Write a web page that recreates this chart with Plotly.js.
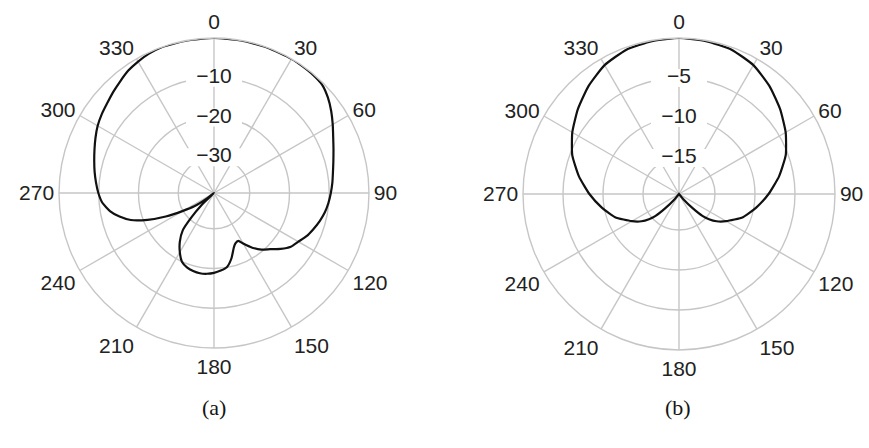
<!DOCTYPE html>
<html>
<head>
<meta charset="utf-8">
<script src="https://cdn.plot.ly/plotly-3.0.1.min.js"></script>
<style>
  html, body { margin: 0; padding: 0; background: #fff; }
  #chart { width: 869px; height: 448px; }
</style>
</head>
<body>
<div id="chart"></div>
<script>
// Pattern (a): angle in degrees (clockwise from top) and level in dB
const thetaA = [0, 10, 20, 30, 35, 40, 45, 50, 55, 60, 65, 70, 75, 80, 85, 90, 95, 100, 105,
                110, 115, 120, 125, 130, 135, 140, 145, 150, 153, 157, 160, 165, 170, 175, 180,
                185, 190, 195, 200, 205, 210, 215, 220, 223, 226, 229, 232, 236, 240, 244, 248,
                252, 256, 260, 265, 270, 275, 280, 285, 290, 295, 300, 305, 310, 315, 320, 325,
                330, 335, 340, 350, 360];
const levelA = [0, 0, 0, 0, -0.1, -0.2, -0.5, -1.6, -3.0, -4.5, -5.9, -7.0, -7.9, -8.6, -9.1,
                -9.6, -10.1, -10.7, -11.5, -12.4, -13.3, -14.5, -15.4, -17.1, -19.0, -20.4,
                -22.2, -24.3, -25.5, -25.2, -24.4, -22.0, -20.1, -19.4, -18.9, -18.6, -18.5,
                -18.7, -19.1, -19.9, -21.8, -24.0, -26.8, -30.8, -34.6, -39, -37, -33, -30,
                -25.5, -21, -17, -14.5, -12.5, -10.8, -9.9, -9.2, -8.5, -7.8, -7.0, -6.1, -5.2,
                -4.5, -3.9, -3.1, -2.3, -1.4, -0.8, -0.3, 0, 0, 0];

// Pattern (b): symmetric cardioid-like response in dB
const thetaB = [0, 10, 20, 30, 40, 50, 60, 70, 80, 90, 100, 110, 120, 126, 130, 133, 136, 140, 145,
                180, 215, 220, 224, 227, 230, 234, 240, 250, 260, 270, 280, 290, 300, 310, 320,
                330, 340, 350, 360];
const levelB = [0, -0.1, -0.3, -0.9, -1.9, -3.0, -4.1, -5.3, -6.8, -8.3, -9.7, -11.0, -12.7,
                -13.7, -14.6, -15.5, -17.0, -18.7, -19.5, -19.5, -19.5, -18.7, -17.0, -15.5,
                -14.6, -13.7, -12.7, -11.0, -9.7, -8.3, -6.8, -5.3, -4.1, -3.0, -1.9, -0.9,
                -0.3, -0.1, 0];

// Axis ticks
const angleTicks = [0, 30, 60, 90, 120, 150, 180, 210, 240, 270, 300, 330];
const angleLabels = ['0', '30', '60', '90', '120', '150', '180', '210', '240', '270', '300', '330'];
const ringsA = [-10, -20, -30];
const ringLabelsA = ['\u221210', '\u221220', '\u221230'];
const ringsB = [-5, -10, -15];
const ringLabelsB = ['\u22125', '\u221210', '\u221215'];
const rangeA = [-39, 0];
const rangeB = [-19.5, 0];
const captions = ['(a)', '(b)'];

const gridGray = '#c6c6c6';
const labelFont = { family: 'Liberation Sans, Arial, sans-serif', size: 21, color: '#222' };
const captionFont = { family: 'Liberation Serif, Times New Roman, serif', size: 22, color: '#151515' };

function ringLabelTrace(sub, r, text) {
  return {
    type: 'scatterpolar', subplot: sub,
    r: r, theta: r.map(() => 0), text: text,
    mode: 'markers+text', textposition: 'middle center',
    textfont: labelFont,
    marker: { symbol: 'line-ew', size: 40, color: '#fff', line: { color: '#fff', width: 18 } },
    hoverinfo: 'skip', showlegend: false, cliponaxis: false
  };
}

function patternTrace(sub, theta, r) {
  return {
    type: 'scatterpolar', subplot: sub,
    r: r, theta: theta, mode: 'lines',
    line: { color: '#111', width: 2.2, shape: 'spline', smoothing: 0.5 },
    hoverinfo: 'skip', showlegend: false
  };
}

function polarLayout(domain, range, rings) {
  return {
    domain: domain,
    bgcolor: '#fff',
    radialaxis: {
      range: range, tickmode: 'array', tickvals: rings,
      showticklabels: false, ticks: '', showline: false,
      gridcolor: gridGray, gridwidth: 1.4
    },
    angularaxis: {
      rotation: 90, direction: 'clockwise',
      tickmode: 'array', tickvals: angleTicks, ticktext: angleLabels,
      ticks: '', showline: true, linecolor: gridGray, linewidth: 1.4,
      gridcolor: gridGray, gridwidth: 1.4,
      tickfont: labelFont
    }
  };
}

const data = [
  ringLabelTrace('polar', ringsA, ringLabelsA),
  patternTrace('polar', thetaA, levelA),
  ringLabelTrace('polar2', ringsB, ringLabelsB),
  patternTrace('polar2', thetaB, levelB)
];

const layout = {
  width: 869, height: 448,
  margin: { l: 0, r: 0, t: 0, b: 0 },
  paper_bgcolor: '#fff',
  showlegend: false,
  font: labelFont,
  polar: polarLayout({ x: [0.0679, 0.4246], y: [0.2232, 0.9152] }, rangeA, ringsA),
  polar2: polarLayout({ x: [0.6018, 0.9609], y: [0.2188, 0.9152] }, rangeB, ringsB),
  annotations: [
    { text: captions[0], xref: 'paper', yref: 'paper', x: 0.2457, y: 0.0893,
      xanchor: 'center', yanchor: 'middle', showarrow: false, font: captionFont },
    { text: captions[1], xref: 'paper', yref: 'paper', x: 0.7807, y: 0.0893,
      xanchor: 'center', yanchor: 'middle', showarrow: false, font: captionFont }
  ]
};

Plotly.newPlot('chart', data, layout, { staticPlot: true, displayModeBar: false });
</script>
</body>
</html>
